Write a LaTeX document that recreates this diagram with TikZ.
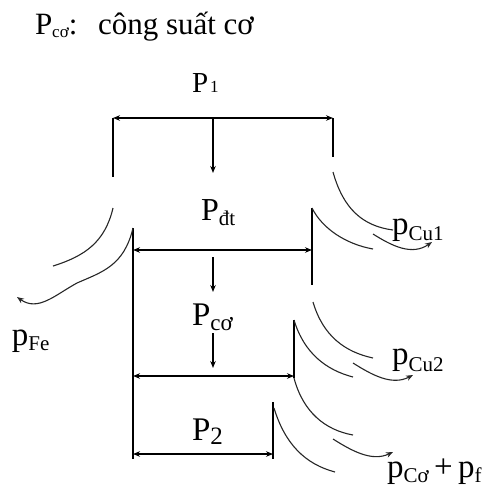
\documentclass[tikz,border=0pt]{standalone}
\usepackage{fontspec}
\setmainfont{Liberation Serif}
\usetikzlibrary{arrows.meta}
\tikzset{
  ln/.style={line width=1.3pt},
  cv/.style={line width=1.1pt, black!85},
  tip/.style={-{Stealth[length=7pt,width=5.5pt]}},
  dtip/.style={{Stealth[length=7pt,width=5.5pt]}-{Stealth[length=7pt,width=5.5pt]}},
  lbl/.style={anchor=base west, inner sep=0pt, outer sep=0pt},
}
\newcommand{\bigf}{\fontsize{33}{38}\selectfont}
\newcommand{\subf}{\fontsize{17}{20}\selectfont}
\newcommand{\lossf}{\fontsize{21}{24}\selectfont}
\begin{document}
\begin{tikzpicture}[x=1pt,y=-1pt]
\useasboundingbox (0,0) rectangle (502,490);
% title
\node[lbl] (tP) at (35,34) {\fontsize{31}{36}\selectfont P\raisebox{-3pt}{\subf cơ}:};
\node[lbl] (tT) at (98,34) {\fontsize{31}{36}\selectfont công suất cơ};
% labels
\node[lbl] (P1) at (192,92) {\fontsize{29}{33}\selectfont P\hspace{2pt}{\fontsize{17}{20}\selectfont 1}};
\node[lbl] (Pdt) at (201,220) {\fontsize{32}{36}\selectfont P\raisebox{-5pt}{\fontsize{21}{24}\selectfont đt}};
\node[lbl] (Pco) at (192,325) {\bigf P\raisebox{-5pt}{\fontsize{23}{26}\selectfont cơ}};
\node[lbl] (P2) at (192,440) {\bigf P\raisebox{-4pt}{\fontsize{25}{28}\selectfont 2}};
\node[lbl] (pFe) at (12,345) {\bigf p\raisebox{-5pt}{\lossf Fe}};
\node[lbl] (pCu1) at (392,234) {\bigf p\raisebox{-6pt}{\lossf Cu1}};
\node[lbl] (pCu2) at (392,364) {\bigf p\raisebox{-7pt}{\lossf Cu2}};
\node[lbl] (pCo) at (387,477) {\bigf p\raisebox{-5pt}{\lossf Cơ}\,+\,p\raisebox{-5pt}{\lossf f}};
% coordinates
\coordinate (L1t) at (113,118); \coordinate (L1b) at (113,177);
\coordinate (R1t) at (333,118); \coordinate (R1b) at (333,157);
\coordinate (D1t) at (213,118); \coordinate (D1b) at (213,173);
\coordinate (Lt) at (133,228); \coordinate (Lb) at (133,459);
\coordinate (A2l) at (133,250); \coordinate (A2r) at (312,250);
\coordinate (R2t) at (312,208); \coordinate (R2b) at (312,285);
\coordinate (D2t) at (213,257); \coordinate (D2b) at (213,292);
\coordinate (D3t) at (213,333); \coordinate (D3b) at (213,368);
\coordinate (A3l) at (133,376); \coordinate (A3r) at (294,376);
\coordinate (R3t) at (294,320); \coordinate (R3b) at (294,378);
\coordinate (A4l) at (133,454); \coordinate (A4r) at (273,454);
\coordinate (R4t) at (273,402); \coordinate (R4b) at (273,459);
% straight lines
\draw[ln,dtip] (L1t) -- (R1t);
\draw[ln] (L1t) -- (L1b);
\draw[ln] (R1t) -- (R1b);
\draw[ln,tip] (D1t) -- (D1b);
\draw[ln] (Lt) -- (Lb);
\draw[ln,dtip] (A2l) -- (A2r);
\draw[ln] (R2t) -- (R2b);
\draw[ln,tip] (D2t) -- (D2b);
\draw[ln,tip] (D3t) -- (D3b);
\draw[ln,dtip] (A3l) -- (A3r);
\draw[ln] (R3t) -- (R3b);
\draw[ln,dtip] (A4l) -- (A4r);
\draw[ln] (R4t) -- (R4b);
% curves: iron losses (left)
\draw[cv] (113,208) .. controls (105,242) and (85,256) .. (53,266);
\draw[cv,tip] (Lt) .. controls (124,266) and (102,272) .. (77,283) .. controls (55,295) and (38,312) .. (17,297);
% copper losses 1
\draw[cv] (333,172) .. controls (343,208) and (362,226) .. (393,230);
\draw[cv] (R2t) .. controls (322,228) and (345,244) .. (373,249);
\draw[cv,tip] (373,234) .. controls (392,246) and (412,256) .. (432,242);
% copper losses 2
\draw[cv] (313,302) .. controls (323,336) and (345,352) .. (373,358);
\draw[cv] (R3t) .. controls (304,353) and (326,370) .. (353,377);
\draw[cv,tip] (353,363) .. controls (372,375) and (392,386) .. (413,375);
% mechanical losses
\draw[cv] (R3b) .. controls (303,412) and (325,430) .. (353,435);
\draw[cv] (274,408) .. controls (285,444) and (305,464) .. (335,472);
\draw[cv,tip] (333,439) .. controls (352,451) and (372,462) .. (393,452);
\end{tikzpicture}
\end{document}
